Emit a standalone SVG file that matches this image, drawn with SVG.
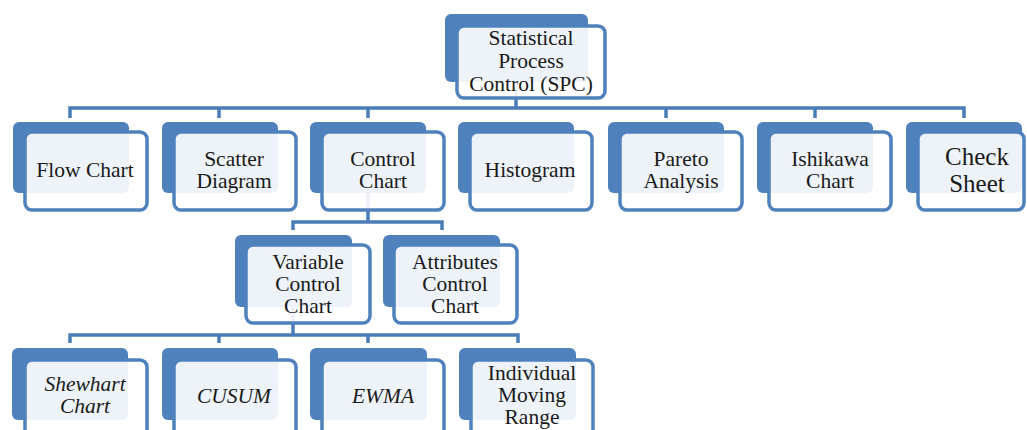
<svg xmlns="http://www.w3.org/2000/svg" width="1027" height="430" viewBox="0 0 1027 430">
<style>
.bk{fill:#4f81bd}
.fr{fill:#ffffff;fill-opacity:0.9;stroke:#4f81bd;stroke-width:3.5}
.c{fill:none;stroke:#4a7cb8;stroke-width:3.5;stroke-linejoin:miter}
</style>
<rect width="1027" height="430" fill="#ffffff"/>
<g id="connectors">
<path class="c" d="M516,82 V108 M70,118 V108 H964 V118 M219,108 V118 M368,108 V118 M666,108 V118 M815,108 V118"/>
<path class="c" d="M368,193 V222 M293,230 V222 H442 V230"/>
<path class="c" d="M293,307 V335 M70,343 V335 H518 V343 M219,335 V343 M368,335 V343"/>
</g>
<g font-family="Liberation Serif" font-size="21.5" text-anchor="middle" fill="#1a1a1a">
<g id="spc">
<rect class="bk" x="445" y="14" width="143" height="68" rx="6"/>
<rect class="fr" x="457" y="26" width="148" height="72" rx="7"/>
<text x="531" y="45">Statistical</text>
<text x="531" y="68">Process</text>
<text x="531" y="91">Control (SPC)</text>
</g>
<g id="flow-chart">
<rect class="bk" x="13" y="122" width="116" height="71" rx="6"/>
<rect class="fr" x="25" y="132" width="122" height="78" rx="7"/>
<text x="85" y="177">Flow Chart</text>
</g>
<g id="scatter-diagram">
<rect class="bk" x="162" y="122" width="116" height="71" rx="6"/>
<rect class="fr" x="174" y="132" width="122" height="78" rx="7"/>
<text x="234" y="166">Scatter</text>
<text x="234" y="188">Diagram</text>
</g>
<g id="control-chart">
<rect class="bk" x="310" y="122" width="116" height="71" rx="6"/>
<rect class="fr" x="322" y="132" width="122" height="78" rx="7"/>
<text x="383" y="166">Control</text>
<text x="383" y="188">Chart</text>
</g>
<g id="histogram">
<rect class="bk" x="458" y="122" width="116" height="71" rx="6"/>
<rect class="fr" x="470" y="132" width="122" height="78" rx="7"/>
<text x="530" y="177">Histogram</text>
</g>
<g id="pareto-analysis">
<rect class="bk" x="608" y="122" width="116" height="71" rx="6"/>
<rect class="fr" x="620" y="132" width="122" height="78" rx="7"/>
<text x="681" y="166">Pareto</text>
<text x="681" y="188">Analysis</text>
</g>
<g id="ishikawa-chart">
<rect class="bk" x="757" y="122" width="116" height="71" rx="6"/>
<rect class="fr" x="769" y="132" width="122" height="78" rx="7"/>
<text x="830" y="166">Ishikawa</text>
<text x="830" y="188">Chart</text>
</g>
<g id="check-sheet">
<rect class="bk" x="906" y="122" width="116" height="71" rx="6"/>
<rect class="fr" x="918" y="132" width="106" height="78" rx="7"/>
<text x="977" y="165" font-size="25">Check</text>
<text x="977" y="192" font-size="25">Sheet</text>
</g>
<g id="variable-control-chart">
<rect class="bk" x="235" y="235" width="117" height="72" rx="6"/>
<rect class="fr" x="246" y="245" width="124" height="78" rx="7"/>
<text x="308" y="269">Variable</text>
<text x="308" y="291">Control</text>
<text x="308" y="313">Chart</text>
</g>
<g id="attributes-control-chart">
<rect class="bk" x="383" y="235" width="117" height="72" rx="6"/>
<rect class="fr" x="394" y="245" width="123" height="78" rx="7"/>
<text x="455" y="269">Attributes</text>
<text x="455" y="291">Control</text>
<text x="455" y="313">Chart</text>
</g>
<g id="shewhart-chart" font-style="italic">
<rect class="bk" x="12" y="348" width="116" height="72" rx="6"/>
<rect class="fr" x="25" y="360" width="122" height="78" rx="7"/>
<text x="85" y="391">Shewhart</text>
<text x="85" y="413">Chart</text>
</g>
<g id="cusum" font-style="italic">
<rect class="bk" x="162" y="348" width="116" height="72" rx="6"/>
<rect class="fr" x="174" y="360" width="122" height="78" rx="7"/>
<text x="234" y="403">CUSUM</text>
</g>
<g id="ewma" font-style="italic">
<rect class="bk" x="310" y="348" width="117" height="72" rx="6"/>
<rect class="fr" x="322" y="360" width="122" height="78" rx="7"/>
<text x="383" y="403">EWMA</text>
</g>
<g id="individual-moving-range">
<rect class="bk" x="459" y="348" width="117" height="72" rx="6"/>
<rect class="fr" x="471" y="360" width="122" height="78" rx="7"/>
<text x="532" y="380">Individual</text>
<text x="532" y="402">Moving</text>
<text x="532" y="424">Range</text>
</g>
</g>
</svg>
